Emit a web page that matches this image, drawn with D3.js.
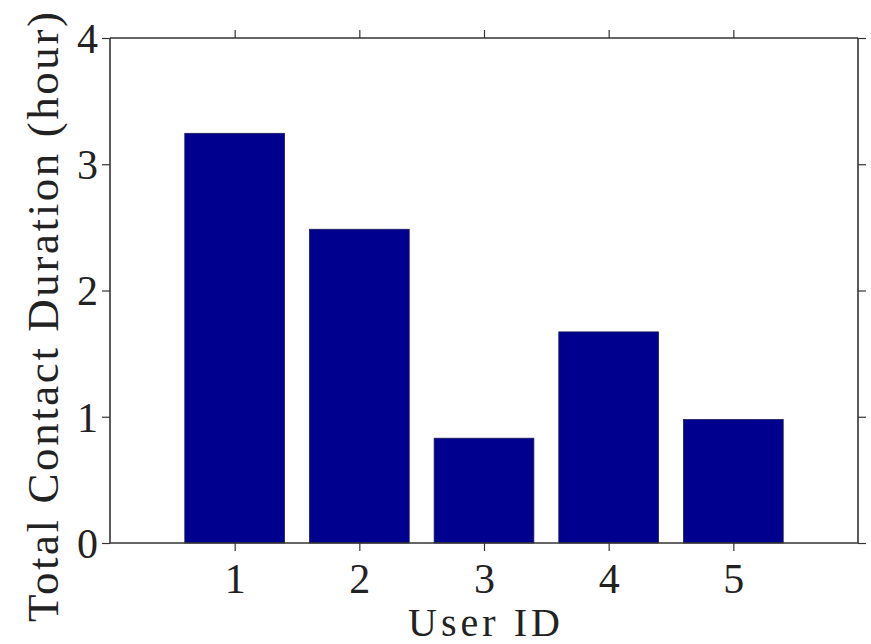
<!DOCTYPE html>
<html>
<head>
<meta charset="utf-8">
<script src="https://cdn.jsdelivr.net/npm/d3@7"></script>
<style>
  body { margin: 0; background: #fff; }
  text { font-family: "Liberation Serif", "Times New Roman", serif; fill: #222; }
</style>
</head>
<body>
<div id="chart"></div>
<script>
const width = 871,
    height = 644;

// data
const userIds = [1, 2, 3, 4, 5];
const durations = [3.245, 2.485, 0.83, 1.672, 0.978];
const yTicks = [0, 1, 2, 3, 4];

const margin = { top: 38, right: 13, bottom: 101, left: 110 };

let svg = d3.select('#chart').append('svg')
    .attr('width', width)
    .attr('height', height);

// x runs 0..6 so the five bars sit at integer positions
let x = d3.scaleLinear()
    .domain([0, 6])
    .range([margin.left, width - margin.right]);

let y = d3.scaleLinear()
    .domain([0, 4])
    .range([height - margin.bottom, margin.top]);

const barWidth = x(0.8) - x(0);

// bars
svg.append('g')
    .selectAll('rect')
    .data(userIds)
    .enter()
    .append('rect')
    .attr('x', (d) => x(d) - barWidth / 2)
    .attr('y', (d, i) => y(durations[i]))
    .attr('width', barWidth)
    .attr('height', (d, i) => y(0) - y(durations[i]))
    .attr('fill', '#00008f')
    .attr('stroke', '#1a1a5a')
    .attr('stroke-width', 0.8);

const tickSize = 8;

// bottom and top axes
let xBottom = svg.append('g')
    .attr('transform', `translate(0,${y(0)})`)
    .call(d3.axisBottom(x).tickValues(userIds).tickSize(tickSize).tickPadding(12).tickFormat(d3.format('d')));

let xTop = svg.append('g')
    .attr('transform', `translate(0,${y(4)})`)
    .call(d3.axisTop(x).tickValues(userIds).tickSize(tickSize).tickFormat(''));

// left and right axes
let yLeft = svg.append('g')
    .attr('transform', `translate(${x(0)},0)`)
    .call(d3.axisLeft(y).tickValues(yTicks).tickSize(tickSize).tickPadding(4).tickFormat(d3.format('d')));

let yRight = svg.append('g')
    .attr('transform', `translate(${x(6)},0)`)
    .call(d3.axisRight(y).tickValues(yTicks).tickSize(tickSize).tickFormat(''));

[xBottom, xTop, yLeft, yRight].forEach(function (g) {
    g.select('.domain')
        .attr('stroke', '#333')
        .attr('stroke-width', 1.6)
        .attr('d', g === xBottom || g === xTop
            ? `M${x(0)},0H${x(6)}`
            : `M0,${y(0)}V${y(4)}`);
    g.selectAll('.tick line').attr('stroke', '#333').attr('stroke-width', 1.2);
    g.selectAll('.tick text')
        .style('font-family', '"Liberation Serif", serif')
        .attr('font-size', 42)
        .attr('fill', '#222');
});

yLeft.selectAll('.tick text').attr('dy', '0.34em');

// axis labels
svg.append('text')
    .attr('x', (x(0) + x(6)) / 2)
    .attr('y', 636)
    .attr('text-anchor', 'middle')
    .attr('font-size', 40)
    .attr('textLength', 152)
    .attr('lengthAdjust', 'spacing')
    .text('User ID');

svg.append('text')
    .attr('transform', 'translate(58,317) rotate(-90)')
    .attr('text-anchor', 'middle')
    .attr('font-size', 45)
    .attr('textLength', 610)
    .attr('lengthAdjust', 'spacing')
    .text('Total Contact Duration (hour)');
</script>
</body>
</html>
